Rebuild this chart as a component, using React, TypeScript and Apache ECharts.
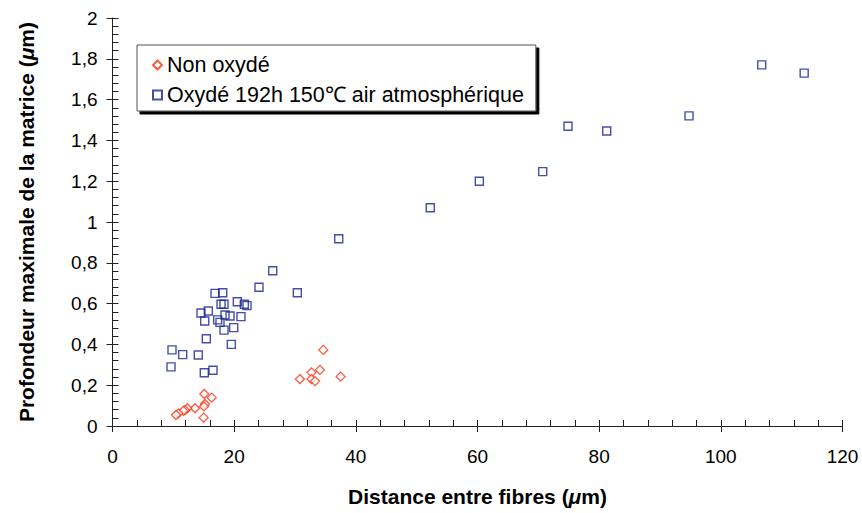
import React, { useEffect, useRef } from "react";
import * as echarts from "echarts";

const nonOxydeX = [15.09, 16.31, 15.2, 15.04, 13.56, 12.3, 11.92, 11.64, 10.82, 10.44, 14.99, 34.65, 34.1, 32.7, 30.8, 32.7, 33.3, 37.5];
const nonOxydeY = [0.157, 0.139, 0.108, 0.096, 0.087, 0.087, 0.078, 0.074, 0.062, 0.054, 0.041, 0.373, 0.275, 0.263, 0.23, 0.23, 0.22, 0.242];

const oxydeX = [26.34, 24.08, 16.85, 18.12, 20.52, 17.84, 18.33, 21.67, 22.11, 14.55, 15.75, 18.49, 19.32, 21.12, 15.16, 17.29, 17.67, 18.33, 19.92, 15.42, 19.53, 9.78, 11.54, 14.1, 9.62, 15.09, 16.52, 30.38, 37.19, 52.24, 60.3, 70.72, 74.88, 81.24, 94.77, 106.72, 113.7];
const oxydeY = [0.761, 0.68, 0.65, 0.653, 0.609, 0.597, 0.597, 0.597, 0.59, 0.554, 0.564, 0.544, 0.539, 0.536, 0.515, 0.52, 0.508, 0.47, 0.482, 0.428, 0.4, 0.373, 0.35, 0.348, 0.29, 0.261, 0.273, 0.653, 0.918, 1.07, 1.2, 1.247, 1.469, 1.446, 1.52, 1.77, 1.73];

const seriesNames = ["Non oxydé", "Oxydé 192h 150℃ air atmosphérique"];
const xTitle = "Distance entre fibres ({i|μ}m)";
const yTitle = "Profondeur maximale de la matrice ({i|μ}m)";

const FONT = "'Liberation Sans', Arial, Helvetica, sans-serif";

export default function App() {
  const ref = useRef<HTMLDivElement>(null);
  useEffect(() => {
    if (!ref.current) return;
    const chart = echarts.init(ref.current, undefined, { renderer: "svg" });
    const axisColor = "#222";
    const nameStyle = {
      fontFamily: FONT,
      fontSize: 21,
      fontWeight: "bold" as const,
      color: "#000",
      rich: { i: { fontFamily: FONT, fontSize: 21, fontWeight: "bold" as const, fontStyle: "italic" as const, color: "#000" } },
    };
    const fmtY = (v: number) => String(Math.round(v * 10) / 10).replace(".", ",");
    chart.setOption({
      animation: false,
      backgroundColor: "#fff",
      textStyle: { fontFamily: FONT },
      grid: { left: 112.5, right: 19.5, top: 18, bottom: 87 },
      xAxis: [
        {
          type: "value", min: 0, max: 120, interval: 20,
          name: xTitle, nameLocation: "middle", nameGap: 60, nameTextStyle: nameStyle,
          axisLine: { lineStyle: { color: axisColor, width: 1 } },
          axisTick: { inside: true, length: 6, lineStyle: { color: axisColor } },
          minorTick: { show: true, splitNumber: 5, length: 6, lineStyle: { color: axisColor } },
          axisLabel: { fontFamily: FONT, fontSize: 19, color: "#000", margin: 21 },
          splitLine: { show: false },
        },
        {
          type: "value", min: 0, max: 120, interval: 20, position: "bottom",
          axisLine: { show: false },
          axisTick: { inside: false, length: 6, lineStyle: { color: axisColor } },
          axisLabel: { show: false },
          splitLine: { show: false },
        },
      ],
      yAxis: [
        {
          type: "value", min: 0, max: 2, interval: 0.2,
          name: yTitle, nameLocation: "middle", nameGap: 76, nameTextStyle: nameStyle,
          axisLine: { show: true, lineStyle: { color: axisColor, width: 1 } },
          axisTick: { show: true, inside: true, length: 6, lineStyle: { color: axisColor } },
          minorTick: { show: true, splitNumber: 5, length: 6, lineStyle: { color: axisColor } },
          axisLabel: { fontFamily: FONT, fontSize: 19, color: "#000", margin: 15, formatter: fmtY },
          splitLine: { show: false },
        },
        {
          type: "value", min: 0, max: 2, interval: 0.2, position: "left",
          axisLine: { show: false },
          axisTick: { show: true, inside: false, length: 6, lineStyle: { color: axisColor } },
          axisLabel: { show: false },
          splitLine: { show: false },
        },
      ],
      legend: {
        left: 137, top: 45, orient: "vertical",
        backgroundColor: "#fff", borderColor: "#555", borderWidth: 1,
        shadowColor: "#000", shadowOffsetX: 3, shadowOffsetY: 3, shadowBlur: 0,
        padding: [9, 12, 5, 15], itemGap: 8, itemWidth: 9, itemHeight: 9,
        textStyle: { fontFamily: FONT, fontSize: 21.5, color: "#000" },
        data: seriesNames,
      },
      series: [
        {
          name: seriesNames[0], type: "scatter", symbol: "diamond", symbolSize: 9,
          itemStyle: { color: "#fff", borderColor: "#ff3010", borderWidth: 1.3 },
          data: nonOxydeX.map((x, i) => [x, nonOxydeY[i]]),
        },
        {
          name: seriesNames[1], type: "scatter", symbol: "rect", symbolSize: 8,
          itemStyle: { color: "transparent", borderColor: "#17248f", borderWidth: 1.4 },
          data: oxydeX.map((x, i) => [x, oxydeY[i]]),
        },
      ],
    });
    return () => chart.dispose();
  }, []);
  return <div ref={ref} style={{ width: 862, height: 513, position: "absolute", left: 0, top: 0 }} />;
}
